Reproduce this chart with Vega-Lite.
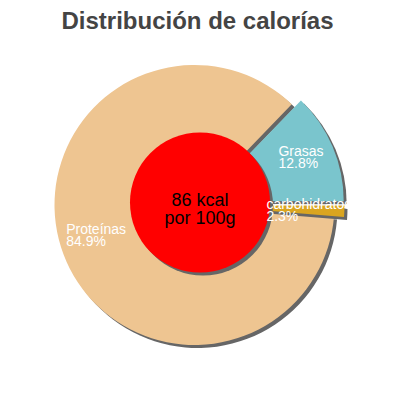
{
  "$schema": "https://vega.github.io/schema/vega-lite/v6.json",
  "width": 389,
  "height": 335,
  "padding": {"top": 9.5, "left": 0, "right": 0, "bottom": 0},
  "background": "white",
  "config": {"view": {"stroke": null}},
  "title": {"text": "Distribución de calorías", "fontSize": 24, "fontWeight": "bold", "color": "#444444", "font": "Liberation Sans", "anchor": "middle", "dx": 3, "offset": 4},
  "data": {"values": [
    {"cat": "Grasas", "idx": 1, "valor": 12.8, "etiqueta": "Grasas\n12.8%"},
    {"cat": "carbohidratos", "idx": 2, "valor": 1.3, "etiqueta": "carbohidratos\n2.3%"},
    {"cat": "Proteínas", "idx": 3, "valor": 85.9, "etiqueta": "Proteínas\n84.9%"}
  ]},
  "layer": [
    {
      "transform": [{"stack": "valor", "groupby": [], "sort": [{"field": "idx"}], "as": ["v0", "v1"]}, {"filter": "datum.cat === 'Proteínas'"}],
      "mark": {"type": "arc", "radius": 140, "fill": "#666666", "xOffset": 3, "yOffset": 3},
      "encoding": {"theta": {"field": "v0", "type": "quantitative", "scale": {"domain": [0, 100], "range": [0.7679, 7.0511]}}, "theta2": {"field": "v1"}}
    },
    {
      "transform": [{"stack": "valor", "groupby": [], "sort": [{"field": "idx"}], "as": ["v0", "v1"]}, {"filter": "datum.cat === 'Proteínas'"}],
      "mark": {"type": "arc", "radius": 140},
      "encoding": {"theta": {"field": "v0", "type": "quantitative"}, "theta2": {"field": "v1"},
        "color": {"field": "cat", "type": "nominal", "legend": null, "scale": {"domain": ["Grasas", "carbohidratos", "Proteínas"], "range": ["#7AC5CD", "#DAA520", "#EEC591"]}}}
    },
    {
      "transform": [{"stack": "valor", "groupby": [], "sort": [{"field": "idx"}], "as": ["v0", "v1"]}, {"filter": "datum.cat === 'Grasas'"}],
      "mark": {"type": "arc", "radius": 140, "fill": "#666666", "xOffset": 12.2, "yOffset": -0.9},
      "encoding": {"theta": {"field": "v0", "type": "quantitative"}, "theta2": {"field": "v1"}}
    },
    {
      "transform": [{"stack": "valor", "groupby": [], "sort": [{"field": "idx"}], "as": ["v0", "v1"]}, {"filter": "datum.cat === 'Grasas'"}],
      "mark": {"type": "arc", "radius": 140, "xOffset": 9.2, "yOffset": -3.9},
      "encoding": {"theta": {"field": "v0", "type": "quantitative"}, "theta2": {"field": "v1"},
        "color": {"field": "cat", "type": "nominal", "legend": null}}
    },
    {
      "transform": [{"stack": "valor", "groupby": [], "sort": [{"field": "idx"}], "as": ["v0", "v1"]}, {"filter": "datum.cat === 'carbohidratos'"}],
      "mark": {"type": "arc", "radius": 140, "fill": "#666666", "xOffset": 13, "yOffset": 3.4},
      "encoding": {"theta": {"field": "v0", "type": "quantitative"}, "theta2": {"field": "v1"}}
    },
    {
      "transform": [{"stack": "valor", "groupby": [], "sort": [{"field": "idx"}], "as": ["v0", "v1"]}, {"filter": "datum.cat === 'carbohidratos'"}],
      "mark": {"type": "arc", "radius": 140, "xOffset": 10, "yOffset": 0.4},
      "encoding": {"theta": {"field": "v0", "type": "quantitative"}, "theta2": {"field": "v1"},
        "color": {"field": "cat", "type": "nominal", "legend": null}}
    },
    {
      "data": {"values": [{"texto": "86 kcal\npor 100g"}]},
      "mark": {"type": "arc", "radius": 70, "theta": 0, "theta2": 6.2832, "fill": "#666666", "xOffset": 8.5, "yOffset": 0.5},
      "encoding": {}
    },
    {
      "data": {"values": [{"texto": "86 kcal\npor 100g"}]},
      "mark": {"type": "arc", "radius": 70, "theta": 0, "theta2": 6.2832, "fill": "#FF0000", "xOffset": 5.5, "yOffset": -2.5},
      "encoding": {}
    },
    {
      "data": {"values": [{"texto": "86 kcal\npor 100g"}]},
      "mark": {"type": "text", "font": "Liberation Sans", "fontSize": 18, "lineHeight": 18, "lineBreak": "\n", "align": "center", "baseline": "middle", "color": "#000000", "xOffset": 5.5, "yOffset": -4},
      "encoding": {"text": {"field": "texto"}}
    },
    {
      "mark": {"type": "text", "radius": 104, "align": "left", "baseline": "top", "dx": -21, "dy": -16, "xOffset": 9.2, "yOffset": -3.9, "font": "Liberation Sans", "fontSize": 14, "lineHeight": 12, "lineBreak": "\n", "color": "#FFFFFF"},
      "encoding": {"theta": {"field": "valor", "type": "quantitative", "stack": true}, "order": {"field": "idx"},
        "text": {"condition": {"test": "datum.cat === 'Grasas'", "field": "etiqueta"}, "value": ""}}
    },
    {
      "mark": {"type": "text", "radius": 104, "align": "left", "baseline": "top", "dx": -42, "dy": -12, "xOffset": 10, "yOffset": 0.4, "font": "Liberation Sans", "fontSize": 14, "lineHeight": 12, "lineBreak": "\n", "color": "#FFFFFF"},
      "encoding": {"theta": {"field": "valor", "type": "quantitative", "stack": true}, "order": {"field": "idx"},
        "text": {"condition": {"test": "datum.cat === 'carbohidratos'", "field": "etiqueta"}, "value": ""}}
    },
    {
      "mark": {"type": "text", "radius": 104, "align": "left", "baseline": "top", "dx": -31, "dy": -18.5, "font": "Liberation Sans", "fontSize": 14, "lineHeight": 12, "lineBreak": "\n", "color": "#FFFFFF"},
      "encoding": {"theta": {"field": "valor", "type": "quantitative", "stack": true}, "order": {"field": "idx"},
        "text": {"condition": {"test": "datum.cat === 'Proteínas'", "field": "etiqueta"}, "value": ""}}
    }
  ]
}
